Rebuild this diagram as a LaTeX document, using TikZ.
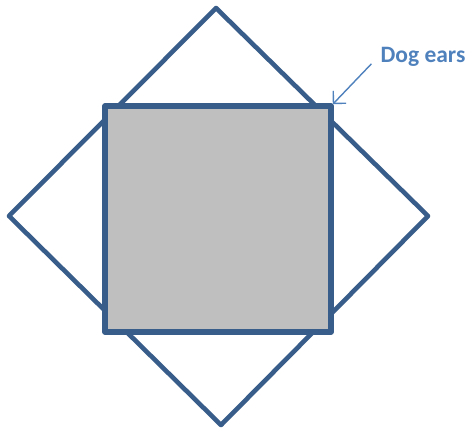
\documentclass[tikz,border=0pt]{standalone}
\usepackage{fontspec}
\newfontfamily\labelfont{Carlito}
\usetikzlibrary{positioning,arrows.meta}
\definecolor{edgeblue}{HTML}{385D8A}
\definecolor{textblue}{HTML}{4F81BD}
\definecolor{sqgray}{HTML}{BFBFBF}

\begin{document}
\begin{tikzpicture}[x=1pt,y=-1pt,
  outline/.style={draw=edgeblue,line width=4pt,line join=round},
  pointer/.style={draw=textblue,line width=1.4pt,-{Straight Barb[length=9pt,width=18pt,line width=1.4pt]}}]
\useasboundingbox (0,0) rectangle (469,429);
\draw[outline,line width=4.6pt] (216,8) -- (428,216) -- (221,425) -- (9,216) -- cycle;
\node (sq) [outline,line width=5.6pt,fill=sqgray,inner sep=0pt,minimum size=226pt] at (218,219) {};
\node (lbl) [textblue,inner sep=1pt,font=\labelfont\bfseries\fontsize{23.5}{28}\selectfont] at (423,57) {Dog ears};
\draw[pointer] ([xshift=-8pt,yshift=4pt]lbl.south west) -- ([xshift=-1pt,yshift=-1pt]sq.north east);
\end{tikzpicture}
\end{document}
